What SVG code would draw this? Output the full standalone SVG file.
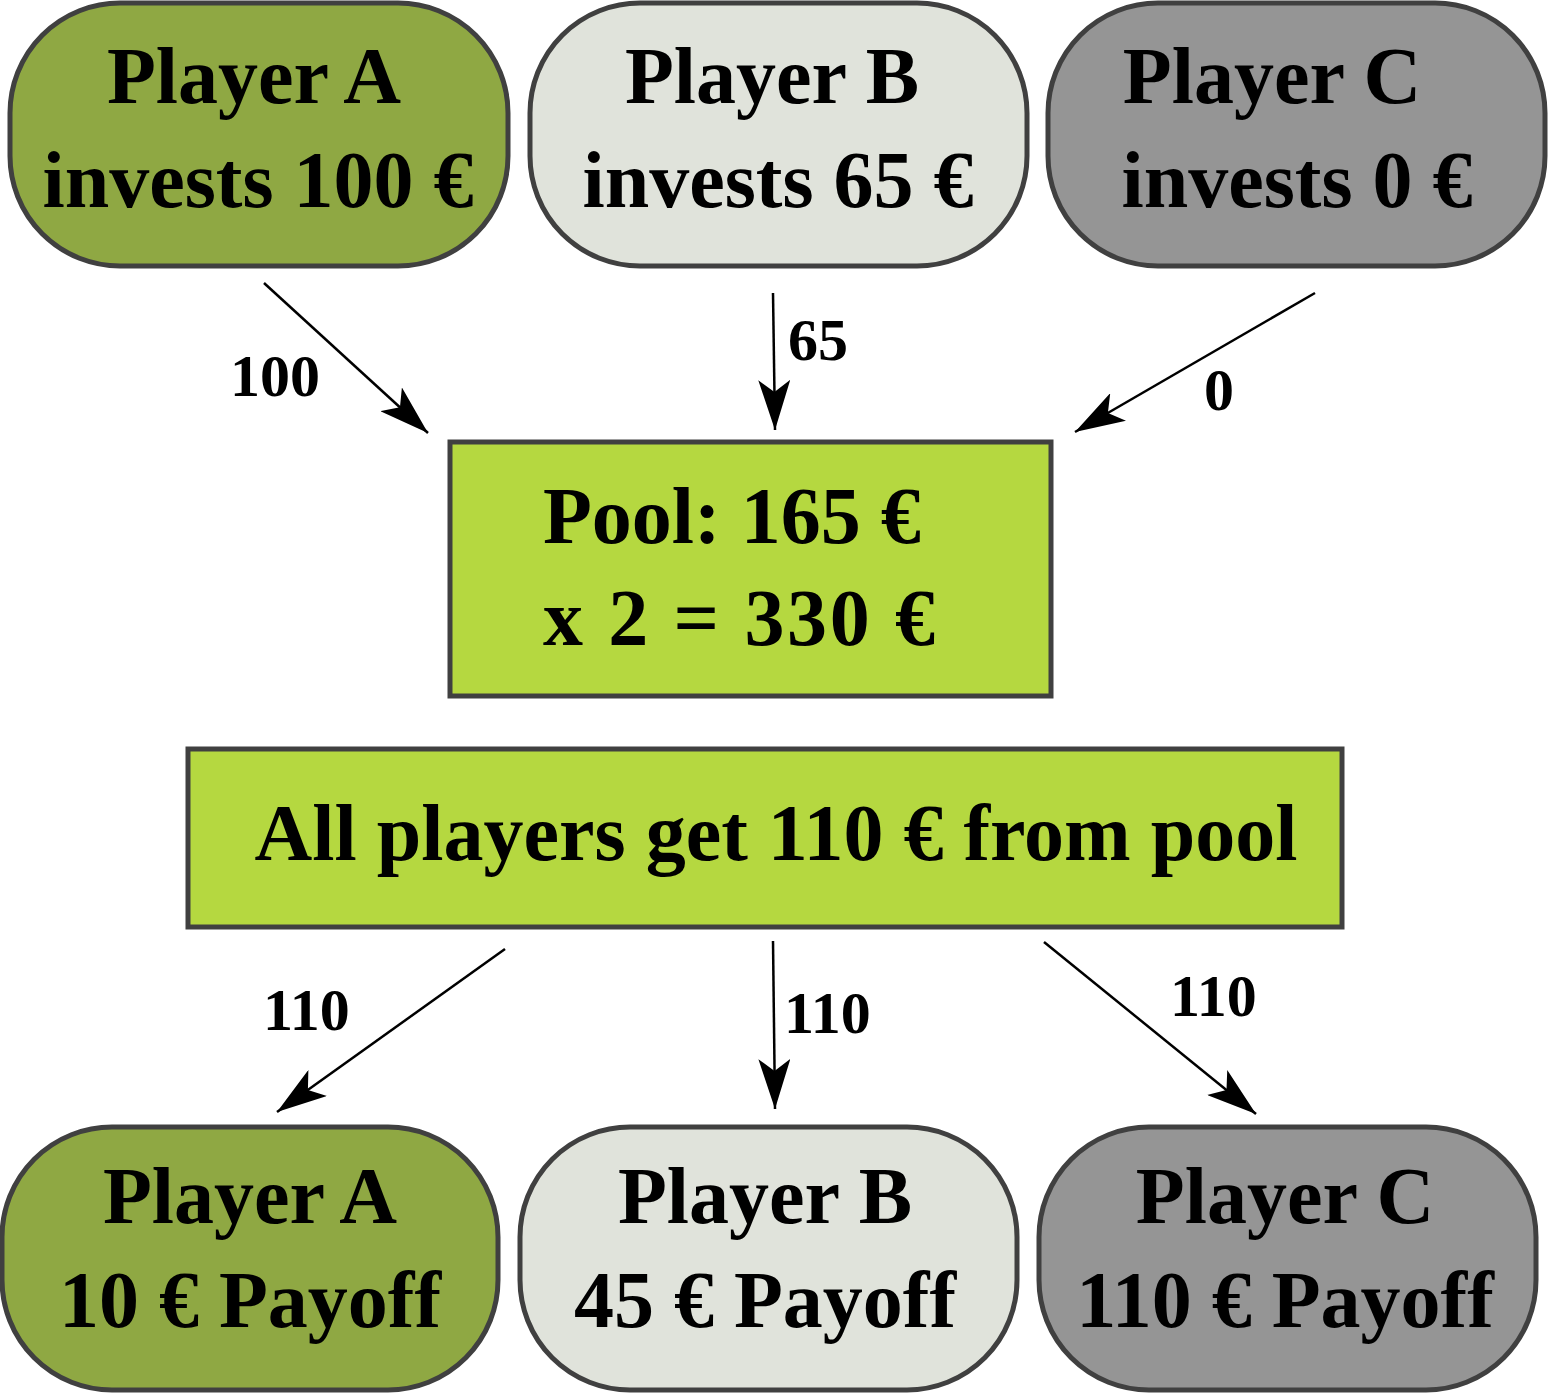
<svg xmlns="http://www.w3.org/2000/svg" width="1548" height="1393" viewBox="0 0 1548 1393">
<style>
.node{stroke:#404040;stroke-width:5}
.a{fill:#8fa843}
.b{fill:#e0e3db}
.c{fill:#959595}
.pool{fill:#b5d840}
.t{font-family:"Liberation Serif","DejaVu Serif",serif;font-weight:bold;font-size:80px;fill:#000;text-anchor:middle}
.lbl{font-family:"Liberation Serif","DejaVu Serif",serif;font-weight:bold;font-size:60px;fill:#000}
.edge{stroke:#000;stroke-width:2.5;fill:none;marker-end:url(#arr)}
</style>
<defs>
<marker id="arr" markerUnits="userSpaceOnUse" viewBox="0 0 50 32" refX="50" refY="16" markerWidth="50" markerHeight="32" orient="auto">
<path d="M0,0 L50,16 L0,32 L12,16 Z" fill="#000"/>
</marker>
</defs>
<rect width="1548" height="1393" fill="#fff"/>
<g id="topA"><rect class="node a" x="10" y="3" width="498" height="263" rx="110" ry="110"/>
<text class="t" x="254" y="103">Player A</text><text class="t" x="258" y="207">invests 100 €</text></g>
<g id="topB"><rect class="node b" x="530" y="3" width="497" height="263" rx="110" ry="110"/>
<text class="t" x="772" y="103">Player B</text><text class="t" x="778" y="207">invests 65 €</text></g>
<g id="topC"><rect class="node c" x="1048" y="3" width="497" height="263" rx="110" ry="110"/>
<text class="t" x="1272" y="103">Player C</text><text class="t" x="1297" y="207">invests 0 €</text></g>
<g id="pool"><rect class="node pool" x="450" y="442" width="601" height="254"/>
<text class="t" x="543" y="543" style="text-anchor:start">Pool: 165 €</text>
<text class="t" x="543" y="645" style="text-anchor:start" textLength="392" lengthAdjust="spacing">x 2 = 330 €</text></g>
<g id="all"><rect class="node pool" x="188" y="749" width="1154" height="178"/>
<text class="t" x="776" y="860">All players get 110 € from pool</text></g>
<g id="botA"><rect class="node a" x="2" y="1127" width="496" height="263" rx="110" ry="110"/>
<text class="t" x="250" y="1223">Player A</text><text class="t" x="250" y="1327">10 € Payoff</text></g>
<g id="botB"><rect class="node b" x="520" y="1127" width="497" height="263" rx="110" ry="110"/>
<text class="t" x="765" y="1223">Player B</text><text class="t" x="765" y="1327">45 € Payoff</text></g>
<g id="botC"><rect class="node c" x="1039" y="1127" width="497" height="263" rx="110" ry="110"/>
<text class="t" x="1285" y="1223">Player C</text><text class="t" x="1285" y="1327">110 € Payoff</text></g>
<g id="connectors">
<line class="edge" x1="264" y1="283" x2="428" y2="433"/>
<line class="edge" x1="773" y1="293" x2="775" y2="430"/>
<line class="edge" x1="1315" y1="293" x2="1075" y2="432"/>
<line class="edge" x1="505" y1="949" x2="277" y2="1112"/>
<line class="edge" x1="773" y1="941" x2="775" y2="1109"/>
<line class="edge" x1="1044" y1="942" x2="1256" y2="1114"/>
<text class="lbl" x="230" y="396">100</text>
<text class="lbl" x="788" y="360">65</text>
<text class="lbl" x="1204" y="410">0</text>
<text class="lbl" x="263" y="1030">110</text>
<text class="lbl" x="784" y="1033">110</text>
<text class="lbl" x="1170" y="1016">110</text>
</g>
</svg>
